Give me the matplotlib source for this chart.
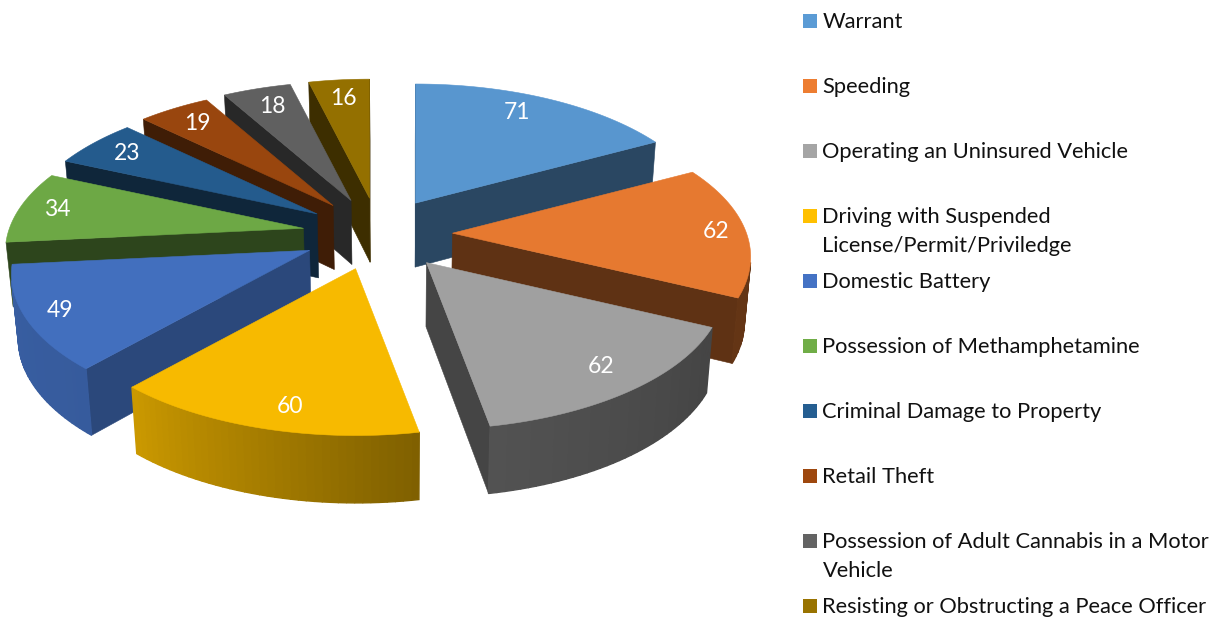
import numpy as np
import matplotlib
matplotlib.use('Agg')
import matplotlib.pyplot as plt
from matplotlib.patches import Polygon, Rectangle
from matplotlib.colors import to_rgb

plt.rcParams['font.family'] = ['Lato', 'DejaVu Sans']

# datos
categorias = [
    'Warrant',
    'Speeding',
    'Operating an Uninsured Vehicle',
    'Driving with Suspended\nLicense/Permit/Priviledge',
    'Domestic Battery',
    'Possession of Methamphetamine',
    'Criminal Damage to Property',
    'Retail Theft',
    'Possession of Adult Cannabis in a Motor\nVehicle',
    'Resisting or Obstructing a Peace Officer',
]
valores = [71, 62, 62, 60, 49, 34, 23, 19, 18, 16]
colores = ['#5B9BD5', '#ED7D31', '#A5A5A5', '#FFC000', '#4472C4',
           '#70AD47', '#255E91', '#9E480E', '#636363', '#997300']

# geometria del pastel en pixeles
cx, cy = 378.5, 234    # centro sin explotar
ex, ey = 74, 36        # explosion
R, Rk = 294, 139       # radios
p = 0.167              # perspectiva
h0 = 64                # grosor
ajuste_x = [-1, 0, 3, -3, -3, -2, 0, 0, 0, 0]
label_r = [0.85, 0.90, 0.83, 0.85, 0.88, 0.87, 0.85, 0.85, 0.84, 0.84]
label_giro = [-3, 0.5, -1, -3, 0, 0, 0, 0, 0, 0]
pared = [0.46, 0.40, 0.42, 0.42, 0.63, 0.40, 0.40, 0.40, 0.40, 0.40]


def borde(ax_, ay_, ang):
    u, v = np.sin(ang), np.cos(ang)
    s = 1 / (1 + p * v)
    return ax_ + R * u * s, ay_ - Rk * v * s


def abajo(x, y, v):
    return x + (400 - x) * 0.018, y + h0 / (1 + 0.05 * v)


def area(pts):
    a = np.array(pts)
    return np.sum(a[:, 0] * np.roll(a[:, 1], -1) - np.roll(a[:, 0], -1) * a[:, 1])


def oscuro(c, f):
    return tuple(np.array(to_rgb(c)) * f)


fig = plt.figure(figsize=(12.2, 6.17), dpi=100)
ax = fig.add_axes([0, 0, 1, 1])
ax.set_xlim(0, 1220)
ax.set_ylim(617, 0)
ax.axis('off')

fracs = np.array(valores) / sum(valores) * 2 * np.pi
ini = np.concatenate([[0], np.cumsum(fracs)[:-1]])
fin = ini + fracs
mid = (ini + fin) / 2
apx = cx + ex * np.sin(mid) + np.array(ajuste_x)
apy = cy - ey * np.cos(mid)

# de atras hacia adelante
orden = np.argsort(apy)
for i in orden:
    c = colores[i]
    a0, a1 = ini[i], fin[i]
    angs = np.linspace(a0, a1, 40)
    top = [borde(apx[i], apy[i], a) for a in angs]
    bot = [abajo(x, y, np.cos(a)) for (x, y), a in zip(top, angs)]
    ap = (apx[i], apy[i])
    ap_b = abajo(ap[0], ap[1], 0)

    # paredes radiales
    for quad in ([ap, top[0], bot[0], ap_b], [top[-1], ap, ap_b, bot[-1]]):
        if area(quad) < 0:
            col = oscuro(c, pared[i])
            ax.add_patch(Polygon(quad, closed=True, fc=col, ec=col, lw=0.4, zorder=2))

    # borde exterior con degradado
    for j in range(len(angs) - 1):
        quad = [top[j], top[j + 1], bot[j + 1], bot[j]]
        if area(quad) < 0:
            f = np.interp(np.degrees(angs[j]), [0, 120, 169.5, 221.7, 300],
                          [0.42, 0.42, 0.50, 0.80, 0.85])
            col = oscuro(c, f)
            ax.add_patch(Polygon(quad, closed=True, fc=col, ec=col, lw=1.0, zorder=2))

    # tapa
    ax.add_patch(Polygon([ap] + top, closed=True, fc=oscuro(c, 0.97), ec=oscuro(c, 0.97),
                         lw=0.4, zorder=2))

    lx, ly = borde(apx[i], apy[i], mid[i] + np.radians(label_giro[i]))
    lx = apx[i] + (lx - apx[i]) * label_r[i]
    ly = apy[i] + (ly - apy[i]) * label_r[i]
    ax.text(lx, ly, str(valores[i]), color='white', fontsize=16.5, ha='center', va='center', zorder=5)

# leyenda
for i, nombre in enumerate(categorias):
    y = 21 + 65 * i
    ax.add_patch(Rectangle((803, y - 7), 14, 14, fc=colores[i], ec='none', zorder=3))
    for k, linea in enumerate(nombre.split('\n')):
        ax.text(822.5, y + 1 + 29 * k, linea, color='#111111', fontsize=15.75, ha='left', va='center', zorder=3)

fig.savefig('out.png', dpi=100)
